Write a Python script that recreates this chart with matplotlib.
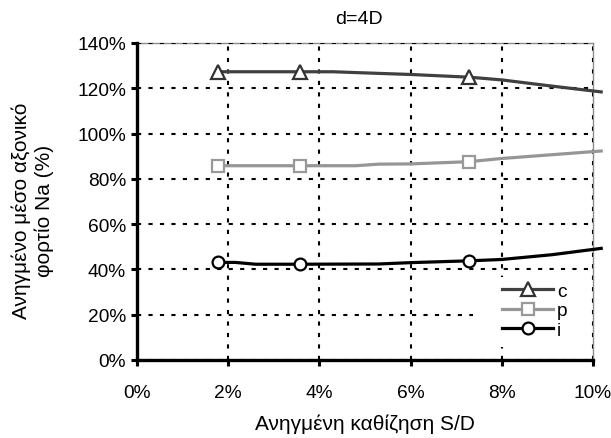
import matplotlib as mpl
import matplotlib.pyplot as plt
from matplotlib.patches import Rectangle
from matplotlib.ticker import FuncFormatter

mpl.rcParams['font.family'] = ['Liberation Sans', 'DejaVu Sans']
mpl.rcParams['font.size'] = 13.8

# data (S/D in %, Na in %)
sd_c = [1.77, 3.57, 4.3, 4.85, 6.0, 7.29, 8.0, 9.0, 10.18]
na_c = [127.3, 127.3, 127.3, 126.9, 126.1, 124.9, 123.7, 121.2, 118.4]
mark_c = [0, 1, 5]

sd_p = [1.77, 3.57, 4.8, 5.3, 6.0, 7.29, 8.0, 10.18]
na_p = [85.8, 85.8, 85.8, 86.5, 86.6, 87.6, 89.0, 92.3]
mark_p = [0, 1, 5]

sd_i = [1.77, 2.15, 2.6, 3.57, 5.3, 6.0, 7.29, 8.0, 9.1, 10.18]
na_i = [43.1, 43.1, 42.3, 42.3, 42.4, 43.0, 43.8, 44.4, 46.5, 49.3]
mark_i = [0, 3, 6]

x_ticks = [0, 2, 4, 6, 8, 10]
y_ticks = [0, 20, 40, 60, 80, 100, 120, 140]

fig = plt.figure(figsize=(6.11, 4.39), dpi=100)
ax = fig.add_axes((137/611, 1-361/439, 456/611, 317/439))

ax.set_xlim(0, 10)
ax.set_ylim(0, 140)
ax.set_xticks(x_ticks)
ax.set_yticks(y_ticks)
pct = FuncFormatter(lambda v, pos: '%d%%' % round(v))
ax.xaxis.set_major_formatter(pct)
ax.yaxis.set_major_formatter(pct)

ax.set_axisbelow(True)
ax.grid(True, color='black', linewidth=1.5, linestyle=(0, (2, 3.5)))

for s in ['left', 'bottom']:
    ax.spines[s].set_linewidth(2.4)
    ax.spines[s].set_color('black')
for s in ['top', 'right']:
    ax.spines[s].set_linewidth(1.0)
    ax.spines[s].set_color('#8c8c8c')
    ax.spines[s].set_zorder(0.3)
ax.tick_params(direction='out', length=4.5, width=2.2, labelsize=13.8)
ax.tick_params(axis='x', pad=12.5)
ax.tick_params(axis='y', pad=3.5)

ax.plot(sd_c, na_c, color='#404040', lw=2.3, marker='^', markevery=mark_c,
        markersize=10, markerfacecolor='white', markeredgecolor='#333333',
        markeredgewidth=1.6, clip_on=False, label='c', zorder=3)
ax.plot(sd_p, na_p, color='#969696', lw=2.3, marker='s', markevery=mark_p,
        markersize=8, markerfacecolor='white', markeredgecolor='#999999',
        markeredgewidth=1.6, clip_on=False, label='p', zorder=3)
ax.plot(sd_i, na_i, color='black', lw=2.3, marker='o', markevery=mark_i,
        markersize=8.5, markerfacecolor='white', markeredgecolor='black',
        markeredgewidth=1.6, clip_on=False, label='i', zorder=3)

# white area behind legend
ax.add_patch(Rectangle(((473-137)/456, (361-348)/317), (590-473)/456, 70/317,
                       transform=ax.transAxes, facecolor='white', edgecolor='none',
                       zorder=1))
ax.legend(loc='center left', bbox_to_anchor=((501.7-137)/456, (361-311.7)/317),
          frameon=False, borderpad=0, borderaxespad=0, handlelength=2.7,
          handletextpad=0.18, labelspacing=0.1, fontsize=13.8)

fig.text(359/611, 1-20/439, 'd=4D', ha='center', va='center', fontsize=14)
fig.text(365/611, 1-424/439, 'Ανηγμένη καθίζηση S/D', ha='center', va='center',
         fontsize=15)
fig.text(33/611, 1-211/439, 'Ανηγμένο μέσο αξονικό\nφορτίο Na (%)', rotation=90,
         ha='center', va='center', multialignment='center', fontsize=15,
         linespacing=1.25)

fig.savefig('out.png', dpi=100)
